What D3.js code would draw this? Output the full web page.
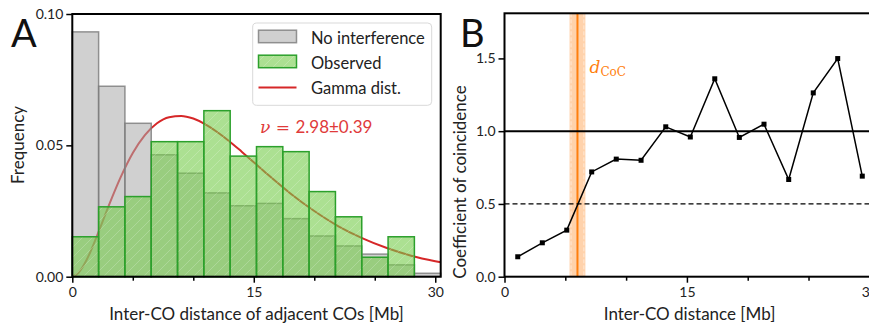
<!DOCTYPE html>
<html>
<head>
<meta charset="utf-8">
<script src="https://cdn.jsdelivr.net/npm/d3@7"></script>
<style>
  body { margin: 0; background: #fff; }
  svg { display: block; font-family: Lato, sans-serif; }
</style>
</head>
<body>
<svg id="fig" width="869" height="328"></svg>
<script>
// ---- panel A: histogram of inter-CO distances (density)
const binEdges = [0, 2.175, 4.35, 6.525, 8.7, 10.875, 13.05, 15.225, 17.4, 19.575, 21.75, 23.925, 26.1, 28.275, 30.45];
const noInterference = [0.0932, 0.0725, 0.0584, 0.0464, 0.0394, 0.0319, 0.0270, 0.0279, 0.0221, 0.0155, 0.0117, 0.0086, 0.0045, 0.0013];
const observed = [0.0152, 0.0266, 0.0305, 0.0514, 0.0514, 0.0632, 0.0459, 0.0495, 0.0476, 0.0324, 0.0228, 0.0074, 0.0152, 0.0];
// fitted gamma curve
const gammaX = [0, 0.5, 1, 1.5, 2, 3, 4, 5, 6, 7, 8, 9, 10, 11, 12, 13, 14, 16, 18, 20, 22, 24, 26, 28, 30, 30.45];
const gammaY = [0, 0.0014, 0.0048, 0.0095, 0.0151, 0.0269, 0.0379, 0.0471, 0.0539, 0.0584, 0.0607, 0.0612, 0.0602, 0.0580, 0.0550, 0.0515, 0.0476, 0.0395, 0.0318, 0.0250, 0.0192, 0.0146, 0.0109, 0.0080, 0.0059, 0.0055];
const legendLabels = ['No interference', 'Observed', 'Gamma dist.'];
const xTicksA = [0, 15, 30];
const xMinorA = [5, 10, 20, 25];
const yTicksA = [0, 0.05, 0.10];

// ---- panel B: coefficient of coincidence
const cocX = [1.09, 3.11, 5.12, 7.17, 9.19, 11.23, 13.26, 15.28, 17.29, 19.31, 21.34, 23.37, 25.39, 27.4, 29.42];
const cocY = [0.137, 0.233, 0.320, 0.720, 0.808, 0.800, 1.030, 0.960, 1.360, 0.957, 1.048, 0.668, 1.263, 1.499, 0.691];
const dCoC = 6.0;
const dCoCErr = 0.65;
const yTicksB = [0, 0.5, 1.0, 1.5];

const svg = d3.select('#fig');
svg.append('rect').attr('width', 869).attr('height', 328).attr('fill', '#fff');

// hatch for the observed bars
const defs = svg.append('defs');
defs.append('pattern')
  .attr('id', 'hatch')
  .attr('patternUnits', 'userSpaceOnUse')
  .attr('width', 10).attr('height', 10)
  .append('path')
  .attr('d', 'M-1,1 l2,-2 M0,10 l10,-10 M9,11 l2,-2')
  .attr('stroke', '#fff')
  .attr('stroke-opacity', 0.25)
  .attr('stroke-width', 0.8);

function drawAxes(g, x, y, major, minor, yTicks, yFmt) {
  const h = y.range()[0];
  const left = x.range()[0];
  g.append('g')
    .attr('transform', 'translate(0,' + h + ')')
    .call(d3.axisBottom(x).tickValues(major).tickSize(6).tickPadding(4).tickFormat(d3.format('d')))
    .call(s => s.select('.domain').remove());
  g.append('g')
    .attr('transform', 'translate(0,' + h + ')')
    .call(d3.axisBottom(x).tickValues(minor).tickSize(4).tickFormat(''))
    .call(s => s.select('.domain').remove());
  g.append('g')
    .attr('transform', 'translate(' + left + ',0)')
    .call(d3.axisLeft(y).tickValues(yTicks).tickSize(6).tickPadding(3).tickFormat(yFmt))
    .call(s => s.select('.domain').remove());
  g.selectAll('.tick line').attr('stroke', '#000').attr('stroke-width', 1.5);
  g.selectAll('.tick text').attr('fill', '#222').style('font-family', 'Lato').style('font-size', '14px');
}

// ================= panel A
const xA = d3.scaleLinear().domain([0, 30.45]).range([72.3, 440.7]);
const yA = d3.scaleLinear().domain([0, 0.1]).range([276.7, 14]);
const gA = svg.append('g');

// gamma curve sits under the translucent bars
const line = d3.line().x((d, i) => xA(gammaX[i])).y(d => yA(d)).curve(d3.curveMonotoneX);
gA.append('path')
  .datum(gammaY)
  .attr('d', line)
  .attr('fill', 'none')
  .attr('stroke', '#d62728')
  .attr('stroke-width', 2);

const bins = noInterference.map((v, i) => ({x0: binEdges[i], x1: binEdges[i + 1], gray: v, green: observed[i]}));

gA.selectAll('rect.gray')
  .data(bins)
  .enter()
  .append('rect')
  .attr('class', 'gray')
  .attr('x', d => xA(d.x0))
  .attr('width', d => xA(d.x1) - xA(d.x0))
  .attr('y', d => yA(d.gray))
  .attr('height', d => yA(0) - yA(d.gray))
  .attr('fill', '#a9a9a9')
  .attr('fill-opacity', 0.55)
  .attr('stroke', '#7a7a7a')
  .attr('stroke-opacity', 0.8)
  .attr('stroke-width', 1.5);

const greens = gA.selectAll('g.green')
  .data(bins.filter(d => d.green > 0))
  .enter()
  .append('g')
  .attr('class', 'green');
greens.append('rect')
  .attr('x', d => xA(d.x0))
  .attr('width', d => xA(d.x1) - xA(d.x0))
  .attr('y', d => yA(d.green))
  .attr('height', d => yA(0) - yA(d.green))
  .attr('fill', '#74cc4a')
  .attr('fill-opacity', 0.6);
greens.append('rect')
  .attr('x', d => xA(d.x0))
  .attr('width', d => xA(d.x1) - xA(d.x0))
  .attr('y', d => yA(d.green))
  .attr('height', d => yA(0) - yA(d.green))
  .attr('fill', 'url(#hatch)')
  .attr('stroke', '#2ca02c')
  .attr('stroke-width', 1.5);

drawAxes(gA, xA, yA, xTicksA, xMinorA, yTicksA, d3.format('.2f'));

gA.append('rect')
  .attr('x', 72.3).attr('y', 14)
  .attr('width', 440.7 - 72.3).attr('height', 276.7 - 14)
  .attr('fill', 'none').attr('stroke', '#000').attr('stroke-width', 2);

// legend
const leg = gA.append('g');
leg.append('rect')
  .attr('x', 252.7).attr('y', 23).attr('width', 179).attr('height', 82.3)
  .attr('rx', 4).attr('fill', '#fff').attr('fill-opacity', 0.8)
  .attr('stroke', '#d9d9d9').attr('stroke-width', 1);
const rowY = [43.7, 68.7, 94];
leg.append('rect')
  .attr('x', 258.5).attr('y', rowY[0] - 13.5).attr('width', 38).attr('height', 12.5)
  .attr('fill', '#a9a9a9').attr('fill-opacity', 0.55)
  .attr('stroke', '#7a7a7a').attr('stroke-opacity', 0.8).attr('stroke-width', 1.5);
leg.append('rect')
  .attr('x', 258.5).attr('y', rowY[1] - 13.5).attr('width', 38).attr('height', 12.5)
  .attr('fill', '#74cc4a').attr('fill-opacity', 0.6);
leg.append('rect')
  .attr('x', 258.5).attr('y', rowY[1] - 13.5).attr('width', 38).attr('height', 12.5)
  .attr('fill', 'url(#hatch)').attr('stroke', '#2ca02c').attr('stroke-width', 1.5);
leg.append('line')
  .attr('x1', 258.5).attr('x2', 296.5).attr('y1', rowY[2] - 6.5).attr('y2', rowY[2] - 6.5)
  .attr('stroke', '#d62728').attr('stroke-width', 2);
leg.selectAll('text.lab')
  .data(legendLabels)
  .enter()
  .append('text')
  .attr('class', 'lab')
  .attr('x', 311)
  .attr('y', (d, i) => rowY[i])
  .style('font-size', '16.5px')
  .attr('fill', '#222')
  .text(d => d);

// fitted shape parameter
const nu = gA.append('text').attr('x', 260).attr('y', 133).attr('fill', '#e03a3a').style('font-size', '17px');
nu.append('tspan').style('font-family', 'DejaVu Serif').style('font-style', 'italic').text('ν');
nu.append('tspan').style('font-family', 'DejaVu Serif').text(' = ');
nu.append('tspan').text('2.98±0.39');

gA.append('text')
  .attr('x', 256.5).attr('y', 319.5)
  .attr('text-anchor', 'middle')
  .style('font-size', '17px').attr('fill', '#222')
  .text('Inter-CO distance of adjacent COs [Mb]');
gA.append('text')
  .attr('transform', 'translate(24,145) rotate(-90)')
  .attr('text-anchor', 'middle')
  .style('font-size', '17px').attr('fill', '#222')
  .text('Frequency');
gA.append('text')
  .attr('x', 11).attr('y', 46.7)
  .style('font-size', '38px').attr('fill', '#111')
  .text('A');

// ================= panel B
const xB = d3.scaleLinear().domain([0, 30.45]).range([504.5, 874.8]);
const yB = d3.scaleLinear().domain([0, 1.81]).range([276.7, 13.3]);
const gB = svg.append('g');

// d_CoC with its uncertainty band
gB.append('rect')
  .attr('x', xB(dCoC - dCoCErr)).attr('y', yB(1.81))
  .attr('width', xB(dCoC + dCoCErr) - xB(dCoC - dCoCErr))
  .attr('height', yB(0) - yB(1.81))
  .attr('fill', '#ff7f0e').attr('fill-opacity', 0.35);
[dCoC - dCoCErr, dCoC + dCoCErr].forEach(v => {
  gB.append('line')
    .attr('x1', xB(v) + (v < dCoC ? 1.5 : -1.5)).attr('x2', xB(v) + (v < dCoC ? 1.5 : -1.5))
    .attr('y1', yB(1.81)).attr('y2', yB(0))
    .attr('stroke', '#fff').attr('stroke-opacity', 0.5)
    .attr('stroke-width', 1).attr('stroke-dasharray', '4,2');
});
gB.append('line')
  .attr('x1', xB(dCoC)).attr('x2', xB(dCoC))
  .attr('y1', yB(1.81)).attr('y2', yB(0))
  .attr('stroke', '#ff7f0e').attr('stroke-width', 2);

gB.append('line')
  .attr('x1', xB(0)).attr('x2', xB(30.45)).attr('y1', yB(1)).attr('y2', yB(1))
  .attr('stroke', '#000').attr('stroke-width', 2);
gB.append('line')
  .attr('x1', xB(0)).attr('x2', xB(30.45)).attr('y1', yB(0.5)).attr('y2', yB(0.5))
  .attr('stroke', '#000').attr('stroke-width', 1.3).attr('stroke-dasharray', '5,3');

const cocLine = d3.line().x((d, i) => xB(cocX[i])).y(d => yB(d));
gB.append('path')
  .datum(cocY)
  .attr('d', cocLine)
  .attr('fill', 'none').attr('stroke', '#000').attr('stroke-width', 1.5);
gB.selectAll('rect.mk')
  .data(cocY)
  .enter()
  .append('rect')
  .attr('class', 'mk')
  .attr('x', (d, i) => xB(cocX[i]) - 2.5)
  .attr('y', d => yB(d) - 2.5)
  .attr('width', 5).attr('height', 5)
  .attr('fill', '#000');

drawAxes(gB, xB, yB, xTicksA, xMinorA, yTicksB, d3.format('.1f'));

gB.append('rect')
  .attr('x', 504.5).attr('y', 13.3)
  .attr('width', 874.8 - 504.5).attr('height', 276.7 - 13.3)
  .attr('fill', 'none').attr('stroke', '#000').attr('stroke-width', 2);

const dl = gB.append('text').attr('x', 589.5).attr('y', 73).attr('fill', '#ff7f0e');
dl.append('tspan').style('font-family', 'DejaVu Serif').style('font-style', 'italic').style('font-size', '17px').text('d');
dl.append('tspan').attr('dy', 3).style('font-family', 'DejaVu Serif').style('font-size', '12px').text('CoC');

gB.append('text')
  .attr('x', 689.6).attr('y', 319.5)
  .attr('text-anchor', 'middle')
  .style('font-size', '17px').attr('fill', '#222')
  .text('Inter-CO distance [Mb]');
gB.append('text')
  .attr('transform', 'translate(466,182) rotate(-90)')
  .attr('text-anchor', 'middle')
  .style('font-size', '17px').attr('fill', '#222')
  .text('Coefficient of coincidence');
gB.append('text')
  .attr('x', 460).attr('y', 46.7)
  .style('font-size', '38px').attr('fill', '#111')
  .text('B');
</script>
</body>
</html>
